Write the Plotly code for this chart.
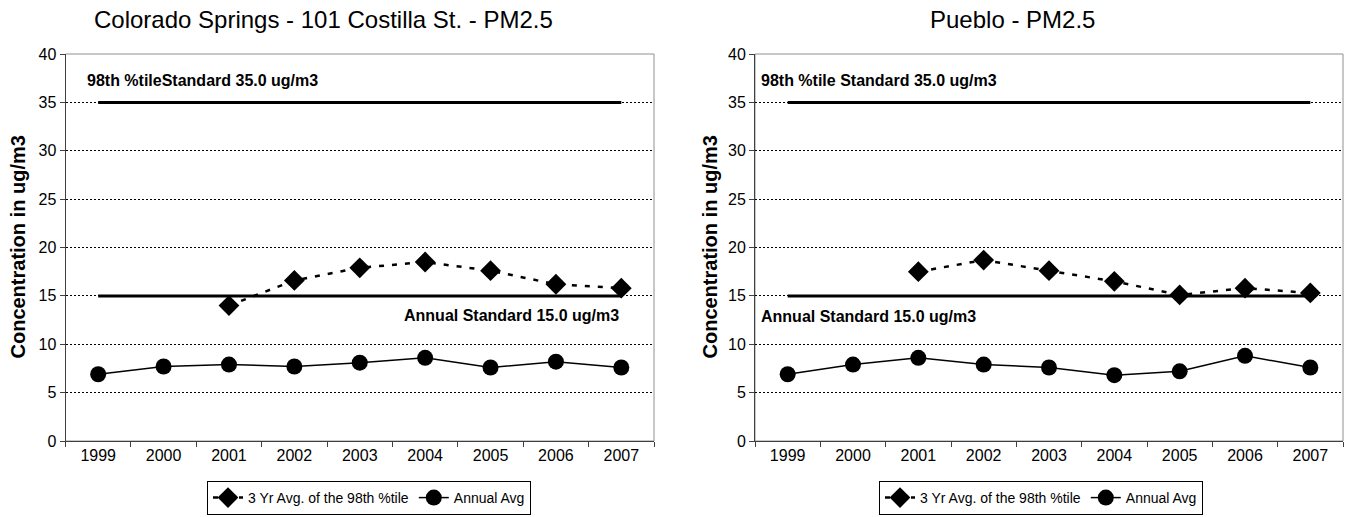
import plotly.graph_objects as go

years = ["1999", "2000", "2001", "2002", "2003", "2004", "2005", "2006", "2007"]

cs_3yr = [None, None, 14.0, 16.6, 17.9, 18.5, 17.6, 16.2, 15.8]
cs_annual = [6.9, 7.7, 7.9, 7.7, 8.1, 8.6, 7.6, 8.2, 7.6]

pb_3yr = [None, None, 17.5, 18.7, 17.6, 16.5, 15.1, 15.8, 15.3]
pb_annual = [6.9, 7.9, 8.6, 7.9, 7.6, 6.8, 7.2, 8.8, 7.6]

std_98 = [35.0] * len(years)
std_annual = [15.0] * len(years)

titles = ["Colorado Springs - 101 Costilla St. - PM2.5", "Pueblo - PM2.5"]
label_98 = ["98th %tileStandard 35.0 ug/m3", "98th %tile Standard 35.0 ug/m3"]
label_annual = ["Annual Standard 15.0 ug/m3", "Annual Standard 15.0 ug/m3"]
y_title = "Concentration in ug/m3"
legend_names = ["3 Yr Avg. of the 98th %tile", "Annual Avg"]

FONT = "Arial, 'Liberation Sans', sans-serif"
W, H = 1347, 517

fig = go.Figure()

panels = [
    dict(xa="x", ya="y", lg="legend", d3=cs_3yr, da=cs_annual),
    dict(xa="x2", ya="y2", lg="legend2", d3=pb_3yr, da=pb_annual),
]

for p in panels:
    for vals in (std_98, std_annual):
        fig.add_trace(go.Scatter(x=years, y=vals, mode="lines",
                                 line=dict(color="black", width=3),
                                 xaxis=p["xa"], yaxis=p["ya"],
                                 showlegend=False, hoverinfo="skip"))
    fig.add_trace(go.Scatter(x=years, y=p["d3"], mode="lines+markers",
                             name=legend_names[0],
                             line=dict(color="black", width=2.5, dash="5px,8px"),
                             marker=dict(symbol="diamond", size=16, color="black"),
                             xaxis=p["xa"], yaxis=p["ya"], legend=p["lg"]))
    fig.add_trace(go.Scatter(x=years, y=p["da"], mode="lines+markers",
                             name=legend_names[1],
                             line=dict(color="black", width=1.5),
                             marker=dict(symbol="circle", size=16, color="black"),
                             xaxis=p["xa"], yaxis=p["ya"], legend=p["lg"]))

y_dom = [1 - 441 / H, 1 - 54 / H]
x_doms = [[65.5 / W, 654 / W], [755 / W, 1343 / W]]

xaxis_common = dict(type="category", tickson="boundaries", ticks="outside",
                    range=[-0.5, len(years) - 0.5],
                    ticklen=5, tickcolor="#404040", showline=True,
                    linecolor="#404040", linewidth=1, showgrid=False,
                    tickfont=dict(family=FONT, size=16, color="black"),
                    automargin=False, fixedrange=True)
yaxis_common = dict(range=[0, 40], dtick=5, ticks="outside", ticklen=5,
                    tickcolor="#404040", showline=True, linecolor="#404040",
                    linewidth=1, showgrid=True, gridcolor="black",
                    griddash="2px,2px", gridwidth=1, zeroline=False,
                    tickfont=dict(family=FONT, size=16, color="black"),
                    automargin=False, fixedrange=True)

fig.update_layout(
    width=W, height=H,
    margin=dict(l=0, r=0, t=0, b=0, pad=0, autoexpand=False),
    paper_bgcolor="white", plot_bgcolor="white",
    font=dict(family=FONT, color="black"),
    xaxis=dict(domain=x_doms[0], anchor="y", **xaxis_common),
    yaxis=dict(domain=y_dom, anchor="x", **yaxis_common),
    xaxis2=dict(domain=x_doms[1], anchor="y2", **xaxis_common),
    yaxis2=dict(domain=y_dom, anchor="x2", **yaxis_common),
    legend=dict(orientation="h", x=369 / W, xanchor="center", y=1 - 481 / H,
                yanchor="top", bordercolor="black", borderwidth=1,
                font=dict(family=FONT, size=14, color="black"),
                itemwidth=30, tracegroupgap=0),
    legend2=dict(orientation="h", x=1041 / W, xanchor="center", y=1 - 481 / H,
                 yanchor="top", bordercolor="black", borderwidth=1,
                 font=dict(family=FONT, size=14, color="black"),
                 itemwidth=30, tracegroupgap=0),
)

# plot-area borders (top/right gray)
for xd, suf in zip(x_doms, ["", "2"]):
    fig.add_shape(type="rect", xref=f"x{suf} domain", yref=f"y{suf} domain",
                  x0=0, x1=1, y0=0, y1=1, line=dict(color="#909090", width=1),
                  layer="below")

ann = []
title_x = [323 / W, 1012 / W]
ytitle_x = [17 / W, 709 / W]
for i in range(2):
    ann.append(dict(text=titles[i], x=title_x[i], y=1 - 19 / H, xref="paper",
                    yref="paper", showarrow=False, xanchor="center",
                    yanchor="middle", font=dict(family=FONT, size=24)))
    ann.append(dict(text="<b>" + y_title + "</b>", x=ytitle_x[i],
                    y=(y_dom[0] + y_dom[1]) / 2, xref="paper", yref="paper",
                    textangle=-90, showarrow=False, xanchor="center",
                    yanchor="middle", font=dict(family=FONT, size=20)))
ann.append(dict(text="<b>" + label_98[0] + "</b>", x=85 / W, y=37.3,
                xref="paper", yref="y", xanchor="left", yanchor="middle",
                showarrow=False, font=dict(family=FONT, size=16)))
ann.append(dict(text="<b>" + label_annual[0] + "</b>", x=621 / W, y=13.0,
                xref="paper", yref="y", xanchor="right", yanchor="middle",
                showarrow=False, font=dict(family=FONT, size=16)))
ann.append(dict(text="<b>" + label_98[1] + "</b>", x=759 / W, y=37.3,
                xref="paper", yref="y2", xanchor="left", yanchor="middle",
                showarrow=False, font=dict(family=FONT, size=16)))
ann.append(dict(text="<b>" + label_annual[1] + "</b>", x=759 / W, y=12.85,
                xref="paper", yref="y2", xanchor="left", yanchor="middle",
                showarrow=False, font=dict(family=FONT, size=16)))
fig.update_layout(annotations=ann)

fig.write_html("out.html",
               config={"displayModeBar": False},
               post_script="document.body.style.margin='0';"
                           "document.body.style.overflow='hidden';")
